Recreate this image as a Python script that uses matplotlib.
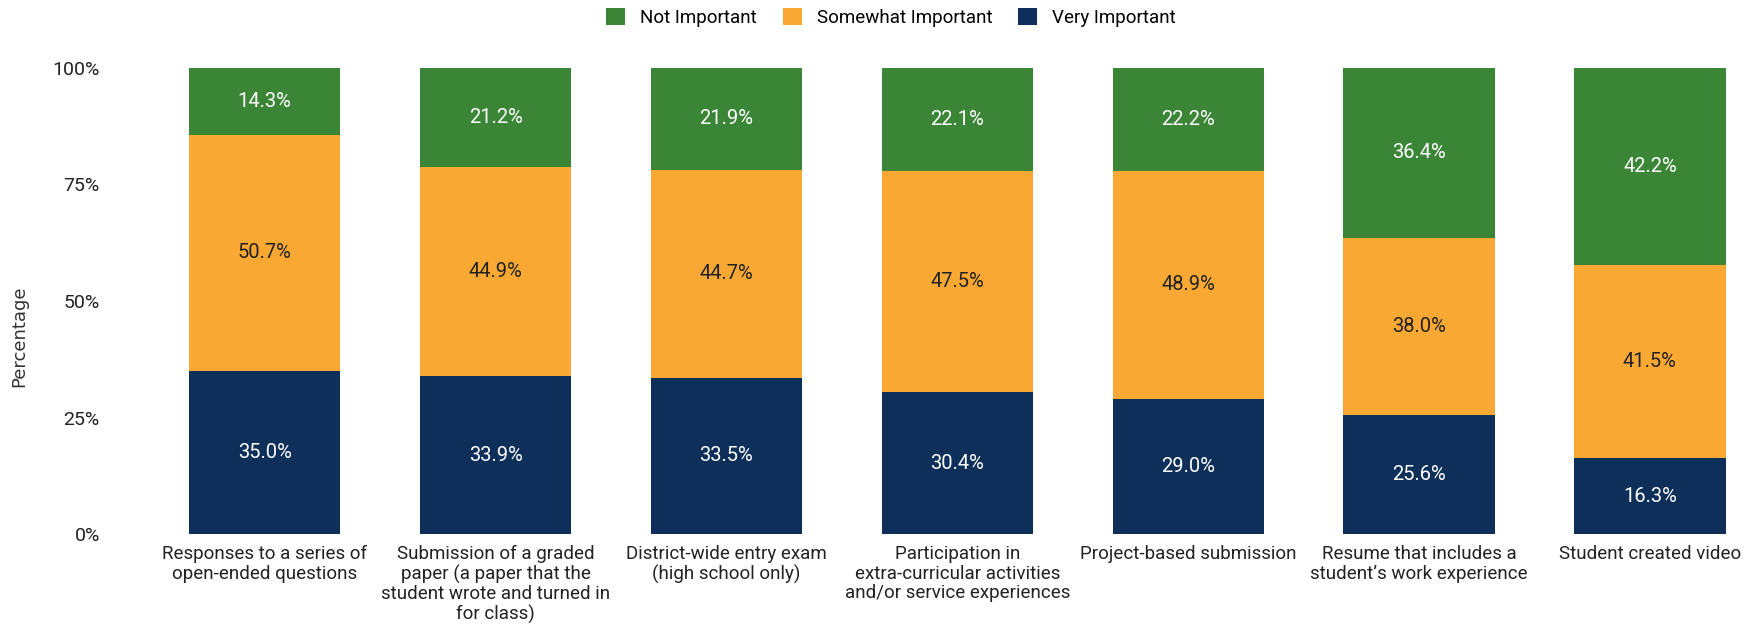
import matplotlib.pyplot as plt
import numpy as np

categories = [
    "Responses to a series of\nopen-ended questions",
    "Submission of a graded\npaper (a paper that the\nstudent wrote and turned in\nfor class)",
    "District-wide entry exam\n(high school only)",
    "Participation in\nextra-curricular activities\nand/or service experiences",
    "Project-based submission",
    "Resume that includes a\nstudent\u2019s work experience",
    "Student created video",
]
very_important = [35.0, 33.9, 33.5, 30.4, 29.0, 25.6, 16.3]
somewhat_important = [50.7, 44.9, 44.7, 47.5, 48.9, 38.0, 41.5]
not_important = [14.3, 21.2, 21.9, 22.1, 22.2, 36.4, 42.2]
y_ticks = [0, 25, 50, 75, 100]


def main():
    plt.rcParams['font.family'] = ['Roboto', 'DejaVu Sans']

    green = '#3b8636'
    orange = '#f9a933'
    navy = '#0d2f5a'

    fig = plt.figure(figsize=(17.54, 6.35), dpi=100)
    ax = fig.add_axes([0.068, 0.159, 0.924, 0.734])

    x = np.arange(len(categories))
    w = 0.655
    vi = np.array(very_important)
    si = np.array(somewhat_important)
    ni = np.array(not_important)

    ax.bar(x, vi, w, color=navy, label='Very Important')
    ax.bar(x, si, w, bottom=vi, color=orange, label='Somewhat Important')
    ax.bar(x, ni, w, bottom=vi + si, color=green, label='Not Important')

    # value labels in the middle of each segment
    for i in range(len(x)):
        ax.text(x[i], vi[i] / 2, f"{vi[i]:.1f}%", ha='center', va='center',
                color='white', fontsize=14.5)
        ax.text(x[i], vi[i] + si[i] / 2, f"{si[i]:.1f}%", ha='center', va='center',
                color='#222222', fontsize=14.5)
        ax.text(x[i], vi[i] + si[i] + ni[i] / 2, f"{ni[i]:.1f}%", ha='center',
                va='center', color='white', fontsize=14.5)

    ax.set_xlim(-0.63, 6.39)
    ax.set_ylim(0, 100)
    ax.set_yticks(y_ticks)
    ax.set_yticklabels([f"{t}%" for t in y_ticks], fontsize=14, color='#222222')
    ax.set_xticks(x)
    ax.set_xticklabels(categories, fontsize=13.5, color='#222222', linespacing=1.1)
    ax.tick_params(length=0)
    ax.tick_params(axis='x', pad=8)
    ax.tick_params(axis='y', pad=14)
    for s in ax.spines.values():
        s.set_visible(False)

    fig.text(0.011, 0.47, "Percentage", rotation=90, ha='center', va='center',
             fontsize=13, family='DejaVu Sans', color='#333333')

    handles, labels = ax.get_legend_handles_labels()
    order = [2, 1, 0]
    fig.legend([handles[i] for i in order], [labels[i] for i in order],
               loc='center', bbox_to_anchor=(0.508, 0.972), ncol=3, frameon=False,
               fontsize=13.5, handlelength=1.0, handleheight=1.0, columnspacing=1.4,
               handletextpad=0.8)

    fig.savefig("out.png", dpi=100)


if __name__ == "__main__":
    main()
